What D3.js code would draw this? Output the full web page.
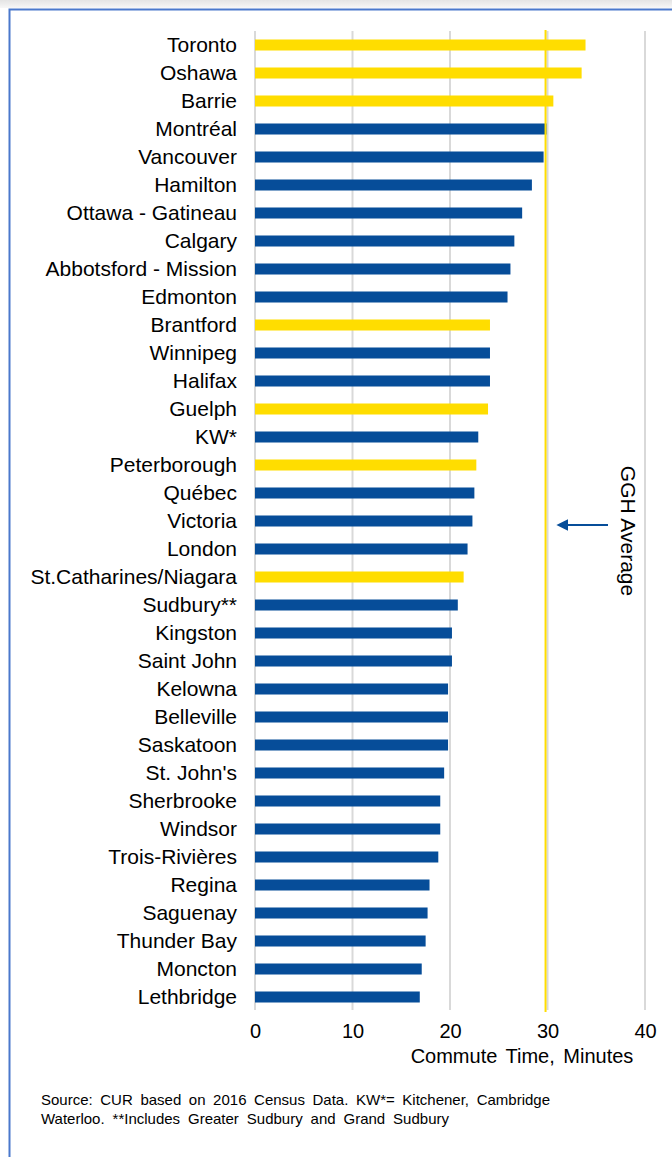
<!DOCTYPE html>
<html>
<head>
<meta charset="utf-8">
<script src="https://cdn.jsdelivr.net/npm/d3@7"></script>
<style>
  body { margin: 0; background: #fff; }
  svg { display: block; font-family: Arial, "Liberation Sans", sans-serif; }
</style>
</head>
<body>
<div id="chart"></div>
<script>
var svgWidth = 672;
var svgHeight = 1157;

// data (minutes)
var cities = ["Toronto", "Oshawa", "Barrie", "Montréal", "Vancouver", "Hamilton",
  "Ottawa - Gatineau", "Calgary", "Abbotsford - Mission", "Edmonton", "Brantford",
  "Winnipeg", "Halifax", "Guelph", "KW*", "Peterborough", "Québec", "Victoria",
  "London", "St.Catharines/Niagara", "Sudbury**", "Kingston", "Saint John",
  "Kelowna", "Belleville", "Saskatoon", "St. John's", "Sherbrooke", "Windsor",
  "Trois-Rivières", "Regina", "Saguenay", "Thunder Bay", "Moncton", "Lethbridge"];

var minutes = [33.9, 33.5, 30.6, 29.9, 29.6, 28.4, 27.4, 26.6, 26.2, 25.9, 24.1,
  24.1, 24.1, 23.9, 22.9, 22.7, 22.5, 22.3, 21.8, 21.4, 20.8, 20.2, 20.2, 19.8,
  19.8, 19.8, 19.4, 19.0, 19.0, 18.8, 17.9, 17.7, 17.5, 17.1, 16.9];

// cities inside the Greater Golden Horseshoe
var gghCities = ["Toronto", "Oshawa", "Barrie", "Brantford", "Guelph",
  "Peterborough", "St.Catharines/Niagara"];

var gghAverage = 29.8;
var xTicks = [0, 10, 20, 30, 40];

var data = cities.map(function (c, i) {
  return { city: c, value: minutes[i], ggh: gghCities.indexOf(c) > -1 };
});

var svg = d3.select("#chart")
  .append("svg")
  .attr("width", svgWidth)
  .attr("height", svgHeight);

// top shadow + frame
var defs = svg.append("defs");
var grad = defs.append("linearGradient")
  .attr("id", "shade")
  .attr("x1", 0).attr("y1", 0).attr("x2", 0).attr("y2", 1);
grad.append("stop").attr("offset", "0%").attr("stop-color", "#e4e4e4");
grad.append("stop").attr("offset", "100%").attr("stop-color", "#f7f7f7");

svg.append("rect")
  .attr("x", 0).attr("y", 0)
  .attr("width", svgWidth).attr("height", 8)
  .attr("fill", "url(#shade)");

svg.append("rect")
  .attr("x", 9.5).attr("y", 9.5)
  .attr("width", svgWidth + 20).attr("height", svgHeight + 20)
  .attr("fill", "#fff")
  .attr("stroke", "#4a78cc")
  .attr("stroke-width", 2);

// scales
var x = d3.scaleLinear()
  .domain([0, 40])
  .range([255, 645]);

var y = d3.scaleBand()
  .domain(cities)
  .range([31, 1011])
  .paddingInner(0.607)
  .paddingOuter(0.3035);

// gridlines
svg.append("g")
  .selectAll("line")
  .data(xTicks)
  .enter()
  .append("line")
  .attr("x1", d => x(d))
  .attr("x2", d => x(d))
  .attr("y1", 31)
  .attr("y2", 1010)
  .attr("stroke", "#d9d9d9")
  .attr("stroke-width", 2);

// bars
svg.append("g")
  .selectAll("rect")
  .data(data)
  .enter()
  .append("rect")
  .attr("x", x(0))
  .attr("y", d => y(d.city))
  .attr("width", d => x(d.value) - x(0))
  .attr("height", y.bandwidth())
  .attr("fill", d => d.ggh ? "#ffdd00" : "#064d99");

// GGH average line
svg.append("line")
  .attr("x1", x(gghAverage))
  .attr("x2", x(gghAverage))
  .attr("y1", 30)
  .attr("y2", 1012)
  .attr("stroke", "#ffdd00")
  .attr("stroke-width", 2);

// city labels
var leftAxis = d3.axisLeft(y).tickSize(0).tickPadding(18);
var yAxis = svg.append("g")
  .attr("transform", `translate(${x(0)}, 0)`)
  .call(leftAxis);
yAxis.select(".domain").remove();
yAxis.selectAll("text")
  .attr("font-size", 21)
  .attr("font-family", "Arial, 'Liberation Sans', sans-serif")
  .attr("fill", "#000");

// x tick labels
var bottomAxis = d3.axisBottom(x).tickValues(xTicks).tickSize(0).tickPadding(0);
var xAxis = svg.append("g")
  .attr("transform", "translate(0, 1024)")
  .call(bottomAxis);
xAxis.select(".domain").remove();
xAxis.selectAll("text")
  .attr("font-size", 20)
  .attr("font-family", "Arial, 'Liberation Sans', sans-serif")
  .attr("fill", "#000");

// axis title
svg.append("text")
  .attr("x", 522)
  .attr("y", 1063)
  .attr("text-anchor", "middle")
  .attr("font-size", 20)
  .attr("word-spacing", 3)
  .attr("fill", "#000")
  .text("Commute Time, Minutes");

// GGH Average label + arrow
svg.append("text")
  .attr("transform", "translate(621, 531) rotate(90)")
  .attr("text-anchor", "middle")
  .attr("font-size", 21)
  .attr("fill", "#000")
  .text("GGH Average");

defs.append("marker")
  .attr("id", "head")
  .attr("viewBox", "0 0 10 10")
  .attr("refX", 2).attr("refY", 5)
  .attr("markerWidth", 6).attr("markerHeight", 6)
  .attr("orient", "auto")
  .append("path")
  .attr("d", "M0,0 L10,5 L0,10 z")
  .attr("fill", "#064d99");

svg.append("line")
  .attr("x1", 608).attr("x2", 566)
  .attr("y1", 525).attr("y2", 525)
  .attr("stroke", "#064d99")
  .attr("stroke-width", 2)
  .attr("marker-end", "url(#head)");

// source note, justified by word spacing
var notes = [
  { text: "Source: CUR based on 2016 Census Data. KW*= Kitchener, Cambridge", y: 1105, width: 509 },
  { text: "Waterloo. **Includes  Greater Sudbury and Grand Sudbury", y: 1124, width: 408 }
];

notes.forEach(function (n) {
  var t = svg.append("text")
    .attr("x", 41)
    .attr("y", n.y)
    .attr("font-size", 15)
    .attr("fill", "#000")
    .text(n.text);
  var natural = t.node().getComputedTextLength();
  var spaces = n.text.split(/\s+/).length - 1;
  var extra = Math.max(0, (n.width - natural) / spaces);
  t.attr("word-spacing", extra);
});
</script>
</body>
</html>
